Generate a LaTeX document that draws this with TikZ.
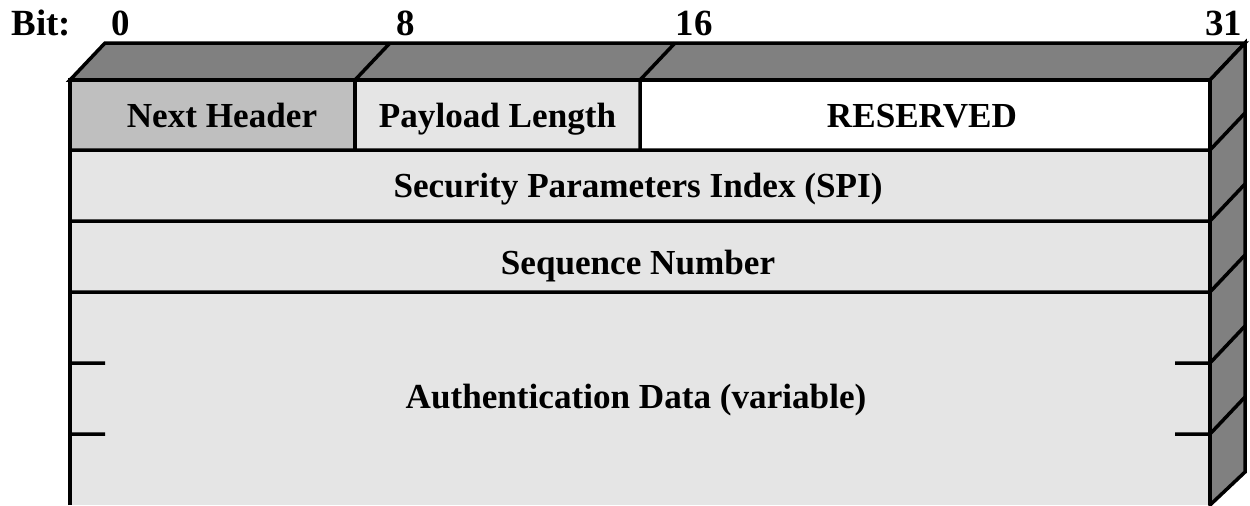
\documentclass[tikz,border=0pt]{standalone}
\usepackage{fontspec}
\setmainfont{Liberation Serif}
\definecolor{facegray}{gray}{0.5}
\definecolor{fieldgray}{gray}{0.9}
\definecolor{nextgray}{gray}{0.75}
\tikzset{
  field/.style={font=\bfseries\fontsize{20}{24}\selectfont, anchor=base},
  bitlabel/.style={font=\bfseries\fontsize{21}{25}\selectfont, anchor=base west},
}
\begin{document}
\begin{tikzpicture}[x=0.02cm,y=-0.02cm,line width=2pt]
  \useasboundingbox (0,0) rectangle (1250,505);
  % top and side faces
  \filldraw[fill=facegray] (70,80) -- (105,43) -- (1245,43) -- (1210,80) -- cycle;
  \filldraw[fill=facegray] (1210,80) -- (1245,43) -- (1245,472) -- (1210,505) -- cycle;

  % front face
  \fill[nextgray] (70,80) rectangle (355,150);
  \fill[fieldgray] (355,80) rectangle (640,150);
  \fill[white] (640,80) rectangle (1210,150);
  \fill[fieldgray] (70,150) rectangle (1210,505);
  \draw (70,505) -- (70,80) -- (1210,80) -- (1210,505);
  \foreach \x in {355, 640} \draw (\x,150) -- (\x,80) -- +(35,-37);
  \foreach \y in {150, 221, 292} \draw (70,\y) -- (1210,\y) -- +(35,-37);
  \foreach \y in {363, 434} \draw (70,\y) -- +(35,0)
    (1175,\y) -- (1210,\y) -- +(35,-37);

  % bit positions
  \node[bitlabel] (bit) at (4,35) {Bit:};
  \node[bitlabel] (b0) at (104,35) {0};
  \node[bitlabel] (b8) at (389,35) {8};
  \node[bitlabel] (b16) at (668,35) {16};
  \node[bitlabel, anchor=base east] (b31) at (1250,35) {31};

  % fields
  \node[field] (next) at (222,127) {Next Header};
  \node[field] (payload) at (497.5,127) {Payload Length};
  \node[field] (reserved) at (922,127) {RESERVED};
  \node[field] (spi) at (638,197) {Security Parameters Index (SPI)};
  \node[field] (seq) at (638,274) {Sequence Number};
  \node[field] (auth) at (636,408) {Authentication Data (variable)};
\end{tikzpicture}
\end{document}
